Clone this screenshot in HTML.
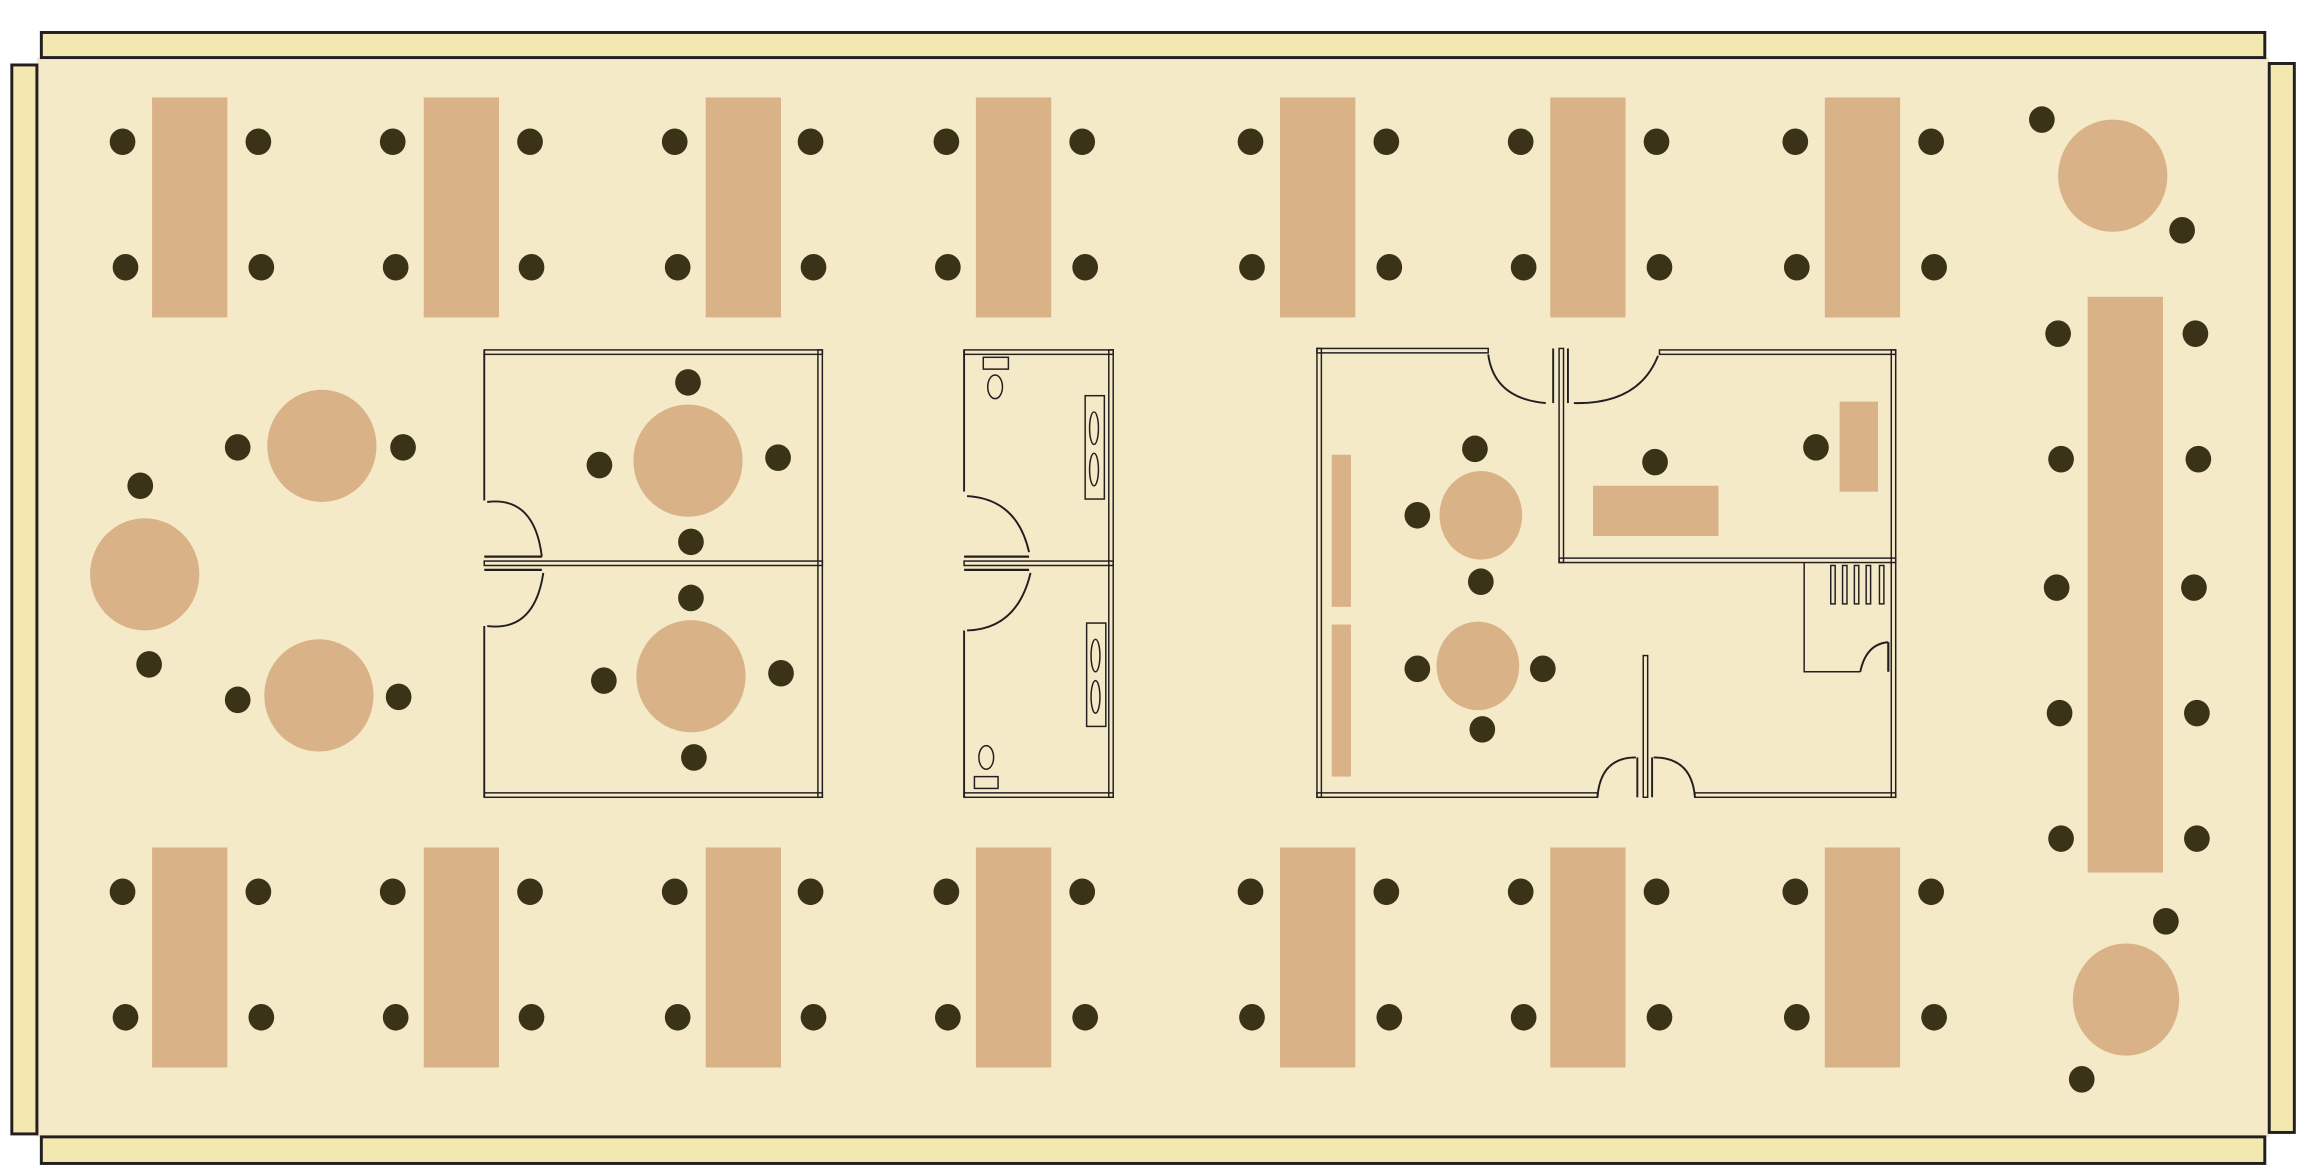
<!DOCTYPE html>
<html><head><meta charset="utf-8"><style>
html,body{margin:0;padding:0;background:#fff;width:2315px;height:1176px;overflow:hidden}
svg{display:block}
</style></head><body>
<svg width="2315" height="1176" viewBox="0 0 1568 796.5" preserveAspectRatio="none" xmlns="http://www.w3.org/2000/svg">
<rect x="25" y="39" width="1512" height="731" fill="#f5eac8"/>
<g fill="#f3e9b0" stroke="#231f20" stroke-width="2">
<rect x="28" y="22" width="1506" height="17"/>
<rect x="28" y="770" width="1506" height="18"/>
<rect x="8" y="44" width="17" height="724"/>
<rect x="1537" y="43" width="17" height="724"/>
</g>
<g fill="#d9b288">
<rect x="103" y="66" width="51" height="149"/><rect x="287" y="66" width="51" height="149"/><rect x="478" y="66" width="51" height="149"/><rect x="661" y="66" width="51" height="149"/><rect x="867" y="66" width="51" height="149"/><rect x="1050" y="66" width="51" height="149"/><rect x="1236" y="66" width="51" height="149"/>
<rect x="103" y="574" width="51" height="149"/><rect x="287" y="574" width="51" height="149"/><rect x="478" y="574" width="51" height="149"/><rect x="661" y="574" width="51" height="149"/><rect x="867" y="574" width="51" height="149"/><rect x="1050" y="574" width="51" height="149"/><rect x="1236" y="574" width="51" height="149"/>
<rect x="1414" y="201" width="51" height="390"/>
<ellipse cx="1431" cy="119" rx="37" ry="38"/>
<ellipse cx="1440" cy="677" rx="36" ry="38"/>
<ellipse cx="218" cy="302" rx="37" ry="38"/>
<ellipse cx="98" cy="389" rx="37" ry="38"/>
<ellipse cx="216" cy="471" rx="37" ry="38"/>
<ellipse cx="466" cy="312" rx="37" ry="38"/>
<ellipse cx="468" cy="458" rx="37" ry="38"/>
<rect x="1079" y="329" width="85" height="34"/>
<rect x="1246" y="272" width="26" height="61"/>
<rect x="902" y="308" width="13" height="103"/>
<rect x="902" y="423" width="13" height="103"/>
<ellipse cx="1003" cy="349" rx="28" ry="30"/>
<ellipse cx="1001" cy="451" rx="28" ry="30"/>
</g>
<g fill="#3a3318">
<ellipse cx="83" cy="96" rx="8.7" ry="9"/><ellipse cx="175" cy="96" rx="8.7" ry="9"/><ellipse cx="85" cy="181" rx="8.7" ry="9"/><ellipse cx="177" cy="181" rx="8.7" ry="9"/>
<ellipse cx="266" cy="96" rx="8.7" ry="9"/><ellipse cx="359" cy="96" rx="8.7" ry="9"/><ellipse cx="268" cy="181" rx="8.7" ry="9"/><ellipse cx="360" cy="181" rx="8.7" ry="9"/>
<ellipse cx="457" cy="96" rx="8.7" ry="9"/><ellipse cx="549" cy="96" rx="8.7" ry="9"/><ellipse cx="459" cy="181" rx="8.7" ry="9"/><ellipse cx="551" cy="181" rx="8.7" ry="9"/>
<ellipse cx="641" cy="96" rx="8.7" ry="9"/><ellipse cx="733" cy="96" rx="8.7" ry="9"/><ellipse cx="642" cy="181" rx="8.7" ry="9"/><ellipse cx="735" cy="181" rx="8.7" ry="9"/>
<ellipse cx="847" cy="96" rx="8.7" ry="9"/><ellipse cx="939" cy="96" rx="8.7" ry="9"/><ellipse cx="848" cy="181" rx="8.7" ry="9"/><ellipse cx="941" cy="181" rx="8.7" ry="9"/>
<ellipse cx="1030" cy="96" rx="8.7" ry="9"/><ellipse cx="1122" cy="96" rx="8.7" ry="9"/><ellipse cx="1032" cy="181" rx="8.7" ry="9"/><ellipse cx="1124" cy="181" rx="8.7" ry="9"/>
<ellipse cx="1216" cy="96" rx="8.7" ry="9"/><ellipse cx="1308" cy="96" rx="8.7" ry="9"/><ellipse cx="1217" cy="181" rx="8.7" ry="9"/><ellipse cx="1310" cy="181" rx="8.7" ry="9"/>
<ellipse cx="83" cy="604" rx="8.7" ry="9"/><ellipse cx="175" cy="604" rx="8.7" ry="9"/><ellipse cx="85" cy="689" rx="8.7" ry="9"/><ellipse cx="177" cy="689" rx="8.7" ry="9"/>
<ellipse cx="266" cy="604" rx="8.7" ry="9"/><ellipse cx="359" cy="604" rx="8.7" ry="9"/><ellipse cx="268" cy="689" rx="8.7" ry="9"/><ellipse cx="360" cy="689" rx="8.7" ry="9"/>
<ellipse cx="457" cy="604" rx="8.7" ry="9"/><ellipse cx="549" cy="604" rx="8.7" ry="9"/><ellipse cx="459" cy="689" rx="8.7" ry="9"/><ellipse cx="551" cy="689" rx="8.7" ry="9"/>
<ellipse cx="641" cy="604" rx="8.7" ry="9"/><ellipse cx="733" cy="604" rx="8.7" ry="9"/><ellipse cx="642" cy="689" rx="8.7" ry="9"/><ellipse cx="735" cy="689" rx="8.7" ry="9"/>
<ellipse cx="847" cy="604" rx="8.7" ry="9"/><ellipse cx="939" cy="604" rx="8.7" ry="9"/><ellipse cx="848" cy="689" rx="8.7" ry="9"/><ellipse cx="941" cy="689" rx="8.7" ry="9"/>
<ellipse cx="1030" cy="604" rx="8.7" ry="9"/><ellipse cx="1122" cy="604" rx="8.7" ry="9"/><ellipse cx="1032" cy="689" rx="8.7" ry="9"/><ellipse cx="1124" cy="689" rx="8.7" ry="9"/>
<ellipse cx="1216" cy="604" rx="8.7" ry="9"/><ellipse cx="1308" cy="604" rx="8.7" ry="9"/><ellipse cx="1217" cy="689" rx="8.7" ry="9"/><ellipse cx="1310" cy="689" rx="8.7" ry="9"/>
<ellipse cx="1383" cy="81" rx="8.7" ry="9"/><ellipse cx="1478" cy="156" rx="8.7" ry="9"/>
<ellipse cx="1394" cy="226" rx="8.7" ry="9"/><ellipse cx="1487" cy="226" rx="8.7" ry="9"/>
<ellipse cx="1396" cy="311" rx="8.7" ry="9"/><ellipse cx="1489" cy="311" rx="8.7" ry="9"/>
<ellipse cx="1393" cy="398" rx="8.7" ry="9"/><ellipse cx="1486" cy="398" rx="8.7" ry="9"/>
<ellipse cx="1395" cy="483" rx="8.7" ry="9"/><ellipse cx="1488" cy="483" rx="8.7" ry="9"/>
<ellipse cx="1396" cy="568" rx="8.7" ry="9"/><ellipse cx="1488" cy="568" rx="8.7" ry="9"/>
<ellipse cx="1467" cy="624" rx="8.7" ry="9"/><ellipse cx="1410" cy="731" rx="8.7" ry="9"/>
<ellipse cx="161" cy="303" rx="8.7" ry="9"/><ellipse cx="273" cy="303" rx="8.7" ry="9"/>
<ellipse cx="95" cy="329" rx="8.7" ry="9"/><ellipse cx="101" cy="450" rx="8.7" ry="9"/>
<ellipse cx="161" cy="474" rx="8.7" ry="9"/><ellipse cx="270" cy="472" rx="8.7" ry="9"/>
<ellipse cx="466" cy="259" rx="8.7" ry="9"/><ellipse cx="406" cy="315" rx="8.7" ry="9"/><ellipse cx="527" cy="310" rx="8.7" ry="9"/><ellipse cx="468" cy="367" rx="8.7" ry="9"/>
<ellipse cx="468" cy="405" rx="8.7" ry="9"/><ellipse cx="409" cy="461" rx="8.7" ry="9"/><ellipse cx="529" cy="456" rx="8.7" ry="9"/><ellipse cx="470" cy="513" rx="8.7" ry="9"/>
<ellipse cx="999" cy="304" rx="8.7" ry="9"/><ellipse cx="960" cy="349" rx="8.7" ry="9"/><ellipse cx="1003" cy="394" rx="8.7" ry="9"/>
<ellipse cx="960" cy="453" rx="8.7" ry="9"/><ellipse cx="1045" cy="453" rx="8.7" ry="9"/><ellipse cx="1004" cy="494" rx="8.7" ry="9"/>
<ellipse cx="1121" cy="313" rx="8.7" ry="9"/><ellipse cx="1230" cy="303" rx="8.7" ry="9"/>
</g>
<g fill="none" stroke="#231f20" stroke-width="1">
<rect x="328" y="237" width="229" height="3"/>
<rect x="328" y="537" width="229" height="3"/>
<rect x="554" y="237" width="3" height="303"/>
<rect x="328" y="380" width="229" height="3"/>
<line x1="328" y1="237" x2="328" y2="339" stroke-width="1.3"/>
<line x1="328" y1="424" x2="328" y2="540" stroke-width="1.3"/>
<path d="M330 340 Q362 336 367 377" stroke-width="1.3"/>
<path d="M330 424 Q362 428 368 388" stroke-width="1.3"/>
<line x1="328" y1="377" x2="367" y2="377" stroke-width="1.5"/>
<line x1="328" y1="386" x2="367" y2="386" stroke-width="1.5"/>
<rect x="653" y="237" width="101" height="3"/>
<rect x="653" y="537" width="101" height="3"/>
<rect x="751" y="237" width="3" height="303"/>
<rect x="653" y="380" width="101" height="3"/>
<line x1="653" y1="237" x2="653" y2="333" stroke-width="1.3"/>
<line x1="653" y1="427" x2="653" y2="540" stroke-width="1.3"/>
<path d="M655 336 Q689 338 697 374" stroke-width="1.3"/>
<path d="M655 427 Q689 426 698 388" stroke-width="1.3"/>
<line x1="653" y1="377" x2="697" y2="377" stroke-width="1.5"/>
<line x1="653" y1="386" x2="697" y2="386" stroke-width="1.5"/>
<rect x="666" y="242" width="17" height="8"/>
<ellipse cx="674" cy="262" rx="5" ry="8"/>
<rect x="735" y="268" width="13" height="70"/>
<ellipse cx="741" cy="290" rx="3" ry="11"/><ellipse cx="741" cy="318" rx="3" ry="11"/>
<rect x="736" y="422" width="13" height="70"/>
<ellipse cx="742" cy="444" rx="3" ry="11"/><ellipse cx="742" cy="472" rx="3" ry="11"/>
<ellipse cx="668" cy="513" rx="5" ry="8"/>
<rect x="660" y="526" width="16" height="8"/>
<rect x="892" y="236" width="116" height="3"/>
<rect x="1124" y="237" width="160" height="3"/>
<rect x="892" y="236" width="3" height="304"/>
<rect x="1281" y="237" width="3" height="303"/>
<rect x="892" y="537" width="190" height="3"/>
<rect x="1148" y="537" width="136" height="3"/>
<rect x="1056" y="236" width="3" height="145"/>
<rect x="1056" y="378" width="228" height="3"/>
<line x1="1052" y1="236" x2="1052" y2="273" stroke-width="1.3"/>
<line x1="1062" y1="236" x2="1062" y2="273" stroke-width="1.3"/>
<path d="M1008 240 Q1012 270 1047 273" stroke-width="1.3"/>
<path d="M1066 273 Q1110 274 1123 241" stroke-width="1.3"/>
<rect x="1113" y="444" width="3" height="96"/>
<line x1="1109" y1="513" x2="1109" y2="540" stroke-width="1.3"/>
<line x1="1119" y1="513" x2="1119" y2="540" stroke-width="1.3"/>
<path d="M1082 540 Q1084 513 1108 513" stroke-width="1.3"/>
<path d="M1120 513 Q1146 513 1148 540" stroke-width="1.3"/>
<polyline points="1222,381 1222,455 1260,455"/>
<rect x="1240" y="383" width="3" height="26"/><rect x="1248" y="383" width="3" height="26"/><rect x="1256" y="383" width="3" height="26"/><rect x="1264" y="383" width="3" height="26"/><rect x="1273" y="383" width="3" height="26"/>
<path d="M1260 455 Q1264 436 1279 435" stroke-width="1.3"/>
<line x1="1279" y1="435" x2="1279" y2="455" stroke-width="1.5"/>
</g>
</svg>
</body></html>
